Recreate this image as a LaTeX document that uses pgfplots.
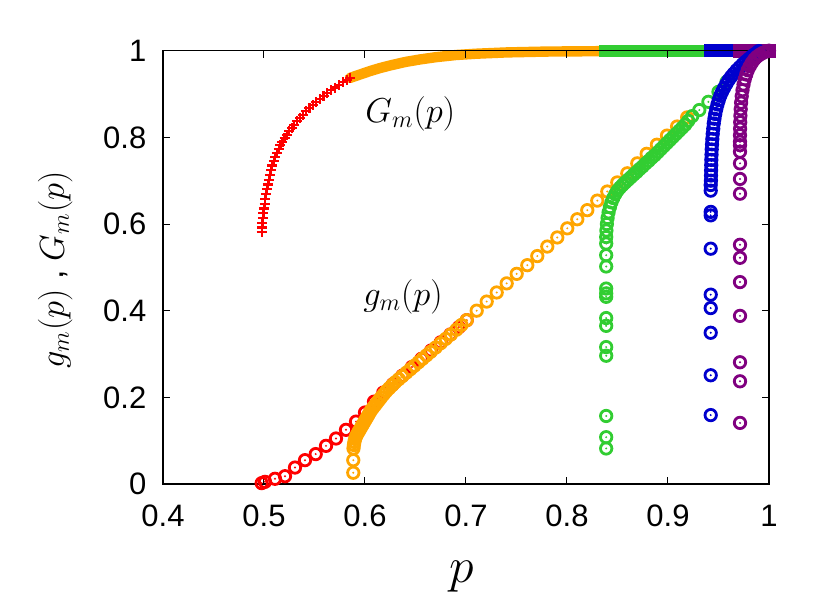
\documentclass[border=0pt]{standalone}
\usepackage[no-math]{fontspec}
\setmainfont{Liberation Sans}
\usepackage{pgfplots}
\pgfplotsset{compat=1.18}

\definecolor{gred}{RGB}{255,0,0}
\definecolor{gorange}{RGB}{255,165,0}
\definecolor{ggreen}{RGB}{50,205,50}
\definecolor{gblue}{RGB}{0,0,205}
\definecolor{gpurple}{RGB}{128,0,128}

% open circle with a dot in the middle (gnuplot style)
\pgfdeclareplotmark{odot}{%
  \pgfsetlinewidth{1.4pt}%
  \pgfpathcircle{\pgfpointorigin}{\pgfplotmarksize}\pgfusepathqstroke
  \pgfpathcircle{\pgfpointorigin}{0.55pt}\pgfusepathqfill}

\begin{document}
\begin{tikzpicture}
\useasboundingbox (-81.5pt,-62.5pt) rectangle (333.5pt,242pt);
\pgfplotsset{
  gsmall/.style={only marks, mark=odot, mark size=2.85pt},
  Gband/.style={no markers, line cap=rect, line join=round},
}
\begin{axis}[
  scale only axis, width=303pt, height=216.65pt,
  xmin=0.4, xmax=1, ymin=0, ymax=1, clip=false, axis on top,
  xtick={0.4,0.5,0.6,0.7,0.8,0.9,1},
  ytick={0,0.2,0.4,0.6,0.8,1},
  tick align=inside, major tick length=3.5pt,
  tick style={black, line width=0.5pt},
  axis line style={black, line width=0.6pt},
  /pgf/number format/assume math mode=true,
  ticklabel style={font=\fontsize{15.5}{18}\selectfont},
  x tick label style={yshift=-7pt},
  y tick label style={xshift=-4.8pt},
  xlabel={$p$},
  xlabel style={font=\fontsize{25}{25}\selectfont,
                at={(axis description cs:0.493,0)}, anchor=base, yshift=-49.5pt},
  ylabel={$g_m(p)$ , $G_m(p)$},
  ylabel style={font=\fontsize{17}{17}\selectfont,
                at={(axis description cs:-0.178,0.494)}, anchor=center},
]
% ---- G_m(p) curves ----
\addplot[gred, only marks, mark=+, mark size=2.5pt, mark options={line width=1.1pt}] coordinates {
 (0.4977,0.581) (0.4981,0.592) (0.4985,0.603) (0.4990,0.614) (0.4995,0.625)
 (0.5000,0.636) (0.5006,0.647) (0.5013,0.658) (0.5020,0.669) (0.5028,0.680)
 (0.5037,0.691) (0.5047,0.702) (0.5058,0.713) (0.5070,0.724) (0.5083,0.735)
 (0.5097,0.745) (0.5112,0.755) (0.5128,0.764) (0.5145,0.773) (0.5163,0.782)
 (0.5183,0.790) (0.5204,0.798) (0.5226,0.806) (0.5250,0.814) (0.5275,0.822)
 (0.5300,0.829) (0.5328,0.837) (0.5357,0.845) (0.5387,0.852) (0.5418,0.860)
 (0.5450,0.867) (0.5483,0.874) (0.5518,0.881) (0.5553,0.888) (0.5590,0.895)
 (0.5627,0.902) (0.5665,0.909) (0.5705,0.915) (0.5745,0.921) (0.5785,0.927)
 (0.5825,0.933) (0.5850,0.937)};
\addplot[gorange, no markers, line width=5.2pt, line cap=round, line join=round] coordinates {
 (0.585,0.937) (0.595,0.945) (0.605,0.953) (0.615,0.960) (0.625,0.966)
 (0.640,0.974) (0.655,0.980) (0.670,0.985) (0.690,0.990) (0.710,0.993)
 (0.740,0.996) (0.780,0.998) (0.838,0.999)};
\addplot[ggreen, Gband, line width=6pt] coordinates {(0.8376,1.0) (0.9423,1.0)};
\addplot[gblue, Gband, line width=6.5pt] coordinates {(0.9423,1.0) (0.9650,1.0)};
\addplot[gpurple, Gband, line width=7pt] coordinates {(0.9713,1.0) (1.0,1.0)};

% ---- g_m(p) curves ----
\addplot[gred, gsmall] coordinates {
 (0.4977,0.002) (0.5010,0.005) (0.5109,0.012) (0.5208,0.018) (0.5307,0.038)
 (0.5406,0.055) (0.5512,0.069) (0.5614,0.088) (0.5713,0.105) (0.5812,0.125)
 (0.5911,0.144) (0.6000,0.165) (0.6089,0.190) (0.6181,0.211) (0.6275,0.230)
 (0.6370,0.250) (0.6465,0.270) (0.6560,0.289) (0.6655,0.308) (0.6750,0.327)
 (0.6845,0.345) (0.6930,0.362) (0.7007,0.378)};
\addplot[gorange, gsmall] coordinates {
 (0.5884,0.026) (0.5884,0.055)
 (0.5886,0.082) (0.5890,0.090) (0.5895,0.097) (0.5902,0.104) (0.5912,0.110)
 (0.5925,0.116) (0.5940,0.122) (0.5955,0.128) (0.5970,0.134) (0.5985,0.140)
 (0.6000,0.146) (0.6015,0.152) (0.6030,0.158) (0.6045,0.164) (0.6060,0.170)
 (0.6080,0.176) (0.6100,0.182) (0.6120,0.188) (0.6140,0.194) (0.6160,0.200)
 (0.6185,0.207) (0.6210,0.214) (0.6240,0.221) (0.6270,0.228) (0.6300,0.235)
 (0.6335,0.242) (0.6370,0.249) (0.6410,0.257) (0.6450,0.265) (0.6490,0.273)
 (0.6530,0.281) (0.6570,0.289) (0.6610,0.297) (0.6650,0.305) (0.6700,0.315)
 (0.6750,0.325) (0.6800,0.335) (0.6850,0.345) (0.6905,0.356) (0.6955,0.367)
 (0.7007,0.378) (0.7106,0.400) (0.7205,0.421) (0.7304,0.442) (0.7403,0.463)
 (0.7502,0.485) (0.7607,0.505) (0.7706,0.526) (0.7805,0.548) (0.7904,0.569)
 (0.8003,0.590) (0.8102,0.611) (0.8201,0.632) (0.8300,0.654) (0.8399,0.675)
 (0.8498,0.696) (0.8597,0.717) (0.8696,0.740) (0.8789,0.762) (0.8890,0.783)
 (0.8990,0.804) (0.9090,0.825) (0.9190,0.846)};
\addplot[ggreen, gsmall] coordinates {
 (0.8388,0.082) (0.8388,0.108) (0.8388,0.157) (0.8388,0.296) (0.8388,0.316)
 (0.8388,0.365) (0.8388,0.383) (0.8388,0.432) (0.8388,0.440) (0.8388,0.451)
 (0.8388,0.502) (0.8388,0.528) (0.8388,0.555)
 (0.8388,0.570) (0.8390,0.585) (0.8395,0.600) (0.8402,0.614) (0.8412,0.627)
 (0.8425,0.639) (0.8440,0.650) (0.8458,0.660) (0.8478,0.669) (0.8500,0.677)
 (0.8525,0.684) (0.8550,0.690) (0.8577,0.696) (0.8605,0.702) (0.8633,0.708)
 (0.8660,0.714) (0.8690,0.720) (0.8720,0.727) (0.8750,0.733) (0.8780,0.740)
 (0.8810,0.746) (0.8840,0.753) (0.8870,0.759) (0.8900,0.766) (0.8930,0.773)
 (0.8960,0.780) (0.8990,0.787) (0.9020,0.794) (0.9050,0.801) (0.9080,0.808)
 (0.9110,0.815) (0.9140,0.822) (0.9170,0.829) (0.9200,0.838) (0.9240,0.849)
 (0.9310,0.863) (0.9400,0.882) (0.9500,0.905) (0.9580,0.928)};
\addplot[gblue, gsmall] coordinates {
 (0.9423,0.159) (0.9423,0.251) (0.9423,0.349) (0.9423,0.406) (0.9423,0.437)
 (0.9423,0.543) (0.9423,0.620) (0.9423,0.628) (0.9423,0.677) (0.9423,0.690)
 (0.9425,0.700) (0.9426,0.712) (0.9427,0.724) (0.9428,0.736) (0.9429,0.748)
 (0.9431,0.760) (0.9433,0.772) (0.9436,0.784) (0.9439,0.796) (0.9443,0.808)
 (0.9448,0.820) (0.9453,0.832) (0.9460,0.843) (0.9468,0.854) (0.9478,0.865)
 (0.9490,0.876) (0.9503,0.886) (0.9518,0.896) (0.9535,0.905) (0.9555,0.914)
 (0.9577,0.923) (0.9600,0.932) (0.9625,0.940) (0.9650,0.947) (0.9680,0.955)
 (0.9710,0.962) (0.9740,0.969) (0.9770,0.975) (0.9800,0.981) (0.9830,0.987)
 (0.9860,0.992) (0.9890,0.997) (0.9900,0.999)};
\addplot[gpurple, gsmall] coordinates {
 (0.9713,0.141) (0.9713,0.237) (0.9713,0.281) (0.9713,0.388) (0.9713,0.466)
 (0.9713,0.522) (0.9713,0.552) (0.9713,0.670) (0.9713,0.704) (0.9713,0.740)
 (0.9713,0.767) (0.9713,0.782)
 (0.9713,0.790) (0.9713,0.805) (0.9714,0.820) (0.9715,0.835) (0.9717,0.850)
 (0.9720,0.865) (0.9724,0.880) (0.9730,0.895) (0.9738,0.909) (0.9748,0.922)
 (0.9760,0.934) (0.9775,0.945) (0.9790,0.955) (0.9810,0.964) (0.9830,0.972)
 (0.9855,0.980) (0.9880,0.986) (0.9910,0.991) (0.9940,0.995) (0.9970,0.998)
 (1.0000,1.000)};

\node[anchor=base west, inner sep=0pt, font=\fontsize{17.3}{17.3}\selectfont]
  at (axis cs:0.600,0.835) {$G_m(p)$};
\node[anchor=base west, inner sep=0pt, font=\fontsize{17.3}{17.3}\selectfont]
  at (axis cs:0.598,0.413) {$g_m(p)$};
\end{axis}
\end{tikzpicture}
\end{document}
